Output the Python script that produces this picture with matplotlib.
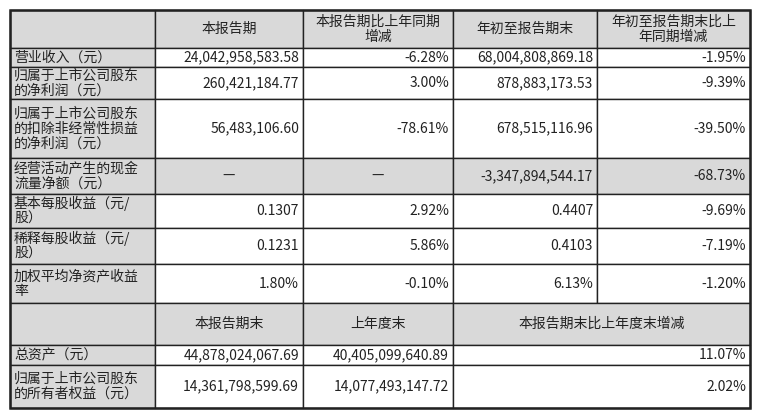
import matplotlib
matplotlib.use("Agg")
import matplotlib.pyplot as plt
from matplotlib.patches import Rectangle

plt.rcParams["font.family"] = "Noto Sans CJK SC"

header1 = ["", "本报告期", "本报告期比上年同期\n增减", "年初至报告期末", "年初至报告期末比上\n年同期增减"]
labels1 = ["营业收入（元）", "归属于上市公司股东\n的净利润（元）", "归属于上市公司股东\n的扣除非经常性损益\n的净利润（元）",
           "经营活动产生的现金\n流量净额（元）", "基本每股收益（元/\n股）", "稀释每股收益（元/\n股）", "加权平均净资产收益\n率"]
col_period = ["24,042,958,583.58", "260,421,184.77", "56,483,106.60", "—", "0.1307", "0.1231", "1.80%"]
col_period_chg = ["-6.28%", "3.00%", "-78.61%", "—", "2.92%", "5.86%", "-0.10%"]
col_ytd = ["68,004,808,869.18", "878,883,173.53", "678,515,116.96", "-3,347,894,544.17", "0.4407", "0.4103", "6.13%"]
col_ytd_chg = ["-1.95%", "-9.39%", "-39.50%", "-68.73%", "-9.69%", "-7.19%", "-1.20%"]

header2 = ["", "本报告期末", "上年度末", "本报告期末比上年度末增减"]
labels2 = ["总资产（元）", "归属于上市公司股东\n的所有者权益（元）"]
end_period = ["44,878,024,067.69", "14,361,798,599.69"]
prev_year_end = ["40,405,099,640.89", "14,077,493,147.72"]
end_chg = ["11.07%", "2.02%"]

W, H = 758, 419
fig = plt.figure(figsize=(W/100, H/100), dpi=100)
ax = fig.add_axes([0, 0, 1, 1])
ax.set_xlim(0, W); ax.set_ylim(H, 0); ax.axis("off")

xs = [10, 155, 303, 453, 597, 750]
rows1 = [10, 48, 67, 99, 158, 194, 228, 264, 303]
rows2 = [303, 345, 365, 408]
gray = "#d9d9d9"
fs = 10

def cell(x0, x1, y0, y1, text, fill, align):
    ax.add_patch(Rectangle((x0, y0), x1-x0, y1-y0, facecolor=fill, edgecolor="#222222", lw=1.0))
    if not text:
        return
    if align == "left":
        ax.text(x0+4, (y0+y1)/2, text, ha="left", va="center", fontsize=fs, linespacing=1.1, color="#222")
    elif align == "right":
        ax.text(x1-4, (y0+y1)/2, text, ha="right", va="center", fontsize=fs, color="#222")
    else:
        ax.text((x0+x1)/2, (y0+y1)/2, text, ha="center", va="center", fontsize=fs, linespacing=1.1, color="#222")

for j, h in enumerate(header1):
    cell(xs[j], xs[j+1], rows1[0], rows1[1], h, gray, "center")
cols = [col_period, col_period_chg, col_ytd, col_ytd_chg]
for i, lab in enumerate(labels1):
    y0, y1 = rows1[i+1], rows1[i+2]
    cell(xs[0], xs[1], y0, y1, lab, gray, "left")
    for j, c in enumerate(cols):
        fill = gray if i == 3 else "white"
        v = c[i]
        cell(xs[j+1], xs[j+2], y0, y1, v, fill, "center" if v == "—" else "right")

xs2 = [10, 155, 303, 453, 750]
for j, h in enumerate(header2):
    cell(xs2[j], xs2[j+1], rows2[0], rows2[1], h, gray, "center")
cols2 = [end_period, prev_year_end, end_chg]
for i, lab in enumerate(labels2):
    y0, y1 = rows2[i+1], rows2[i+2]
    cell(xs2[0], xs2[1], y0, y1, lab, gray, "left")
    for j, c in enumerate(cols2):
        cell(xs2[j+1], xs2[j+2], y0, y1, c[i], "white", "right")

ax.add_patch(Rectangle((10, 10), 740, 398, fill=False, edgecolor="#222", lw=1.8))
fig.savefig("out.png", dpi=100)
